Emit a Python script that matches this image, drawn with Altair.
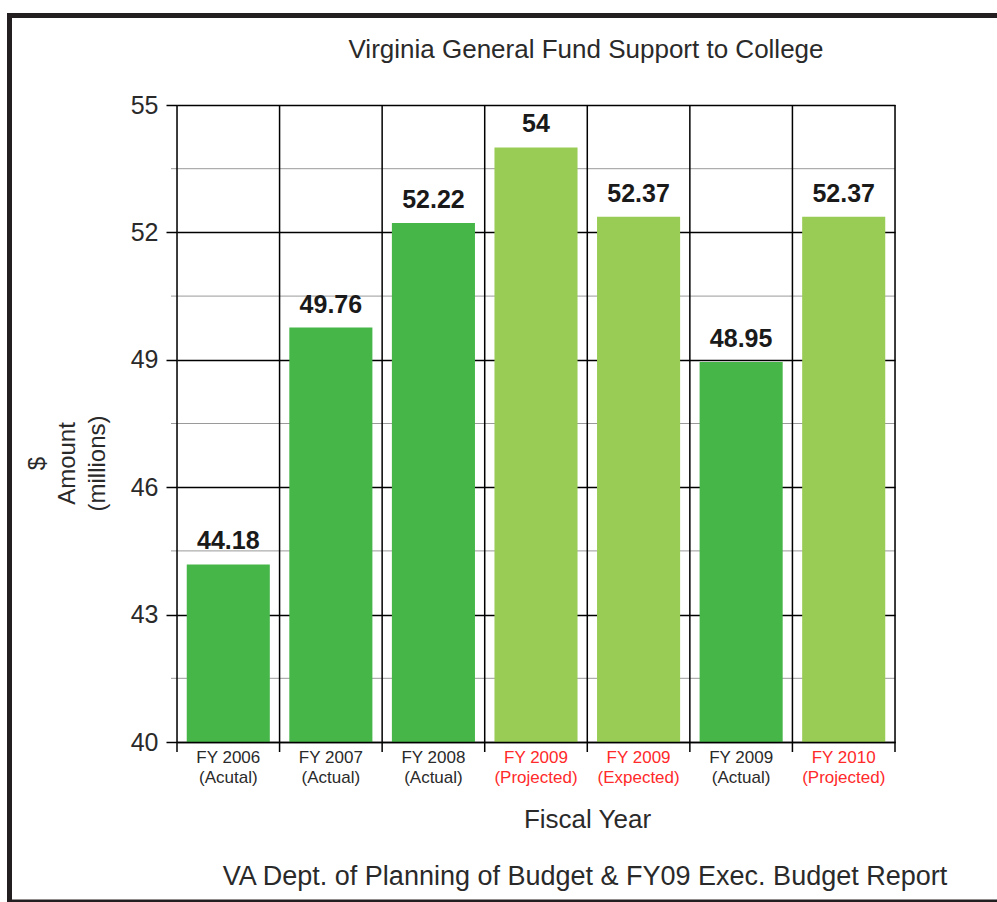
import altair as alt
import pandas as pd

# ---- data ----
categories = ["FY 2006|(Acutal)", "FY 2007|(Actual)", "FY 2008|(Actual)",
              "FY 2009|(Projected)", "FY 2009|(Expected)", "FY 2009|(Actual)",
              "FY 2010|(Projected)"]
values = [44.18, 49.76, 52.22, 54, 52.37, 48.95, 52.37]
status = ["Actual", "Actual", "Actual", "Projected", "Expected", "Actual", "Projected"]
major_ticks = [40, 43, 46, 49, 52, 55]
minor_ticks = [41.5, 44.5, 47.5, 50.5, 53.5]
y_min, y_max = 40, 55

title_text = "Virginia General Fund Support to College"
x_title = "Fiscal Year"
y_title = ["$", "Amount", "(millions)"]
footer_text = "VA Dept. of Planning of Budget & FY09 Exec. Budget Report"

df = pd.DataFrame({"cat": categories, "value": values, "status": status})
minor_df = pd.DataFrame({"v": minor_ticks})
one = pd.DataFrame({"k": [0]})

W, H = 718, 637
FONT = "Liberation Sans"
DARK = "#47b649"
LIGHT = "#99cc55"
RED = "#ff2a2a"
TXT = "#2a2a2a"

xscale = alt.Scale(paddingInner=0, paddingOuter=0)
yscale = alt.Scale(domain=[y_min, y_max], zero=False, nice=False)

# minor gray gridlines
minor = alt.Chart(minor_df).mark_rule(color="#9a9a9a", strokeWidth=1).encode(
    y=alt.Y("v:Q", scale=yscale),
    x=alt.value(-6), x2=alt.value(W),
)

bars = alt.Chart(df).mark_bar(width=alt.RelativeBandSize(0.81)).encode(
    x=alt.X("cat:N", sort=categories, scale=xscale,
            axis=alt.Axis(title=x_title, labelExpr="split(datum.label, '|')",
                          labelAngle=0, labelFont=FONT, labelFontSize=17,
                          labelLineHeight=20, labelPadding=7, ticks=False,
                          labelColor=alt.condition(
                              "indexof(datum.label, 'Projected') >= 0 || indexof(datum.label, 'Expected') >= 0",
                              alt.value(RED), alt.value(TXT)),
                          domain=True, domainColor="black", domainWidth=1.5, zindex=1,
                          titleFont=FONT, titleFontSize=26, titleFontWeight="normal",
                          titleColor=TXT, titleX=410, titleY=85,
                          titleBaseline="alphabetic", titleAlign="center")),
    y=alt.Y("value:Q", scale=yscale,
            axis=alt.Axis(title=y_title, values=major_ticks, grid=True,
                          gridColor="black", gridWidth=1.5, domain=False,
                          tickColor="black", tickWidth=1.5, tickSize=11,
                          labelFont=FONT, labelFontSize=25, labelColor=TXT,
                          labelPadding=8,
                          titleFont=FONT, titleFontSize=24, titleFontWeight="normal",
                          titleColor=TXT, titleAngle=-90, titleLineHeight=30,
                          titleX=-152, titleY=358, titleBaseline="top",
                          titleAlign="center")),
    y2=alt.Y2(datum=y_min),
    color=alt.Color("status:N", legend=None,
                    scale=alt.Scale(domain=["Actual", "Projected", "Expected"],
                                    range=[DARK, LIGHT, LIGHT])),
)

vlines = alt.Chart(df).mark_rule(color="black", strokeWidth=1.5).encode(
    x=alt.X("cat:N", sort=categories, scale=xscale, bandPosition=0),
    y=alt.value(0), y2=alt.value(H + 10),
)
right_line = alt.Chart(one).mark_rule(color="black", strokeWidth=1.5).encode(
    x=alt.value(W), y=alt.value(0), y2=alt.value(H + 10),
)

labels = alt.Chart(df).mark_text(font=FONT, fontSize=25, fontWeight="bold",
                                 color="#1a1a1a", baseline="alphabetic", dy=-15).encode(
    x=alt.X("cat:N", sort=categories, scale=xscale),
    y=alt.Y("value:Q", scale=yscale),
    text=alt.Text("value:Q", format="~g"),
)

title = alt.Chart(one).mark_text(text=title_text, font=FONT, fontSize=26,
                                 color=TXT, baseline="alphabetic", align="center").encode(
    x=alt.value(409), y=alt.value(-47),
)

footer = alt.Chart(one).mark_text(text=footer_text, font=FONT, fontSize=27,
                                  color=TXT, baseline="alphabetic", align="center").encode(
    x=alt.value(408), y=alt.value(780),
)

frame_top = alt.Chart(one).mark_rule(color="#231f20", strokeWidth=5).encode(
    x=alt.value(-170), x2=alt.value(830), y=alt.value(-89.5))
frame_left = alt.Chart(one).mark_rule(color="#231f20", strokeWidth=5).encode(
    x=alt.value(-167.5), y=alt.value(-92), y2=alt.value(800))
frame_bottom = alt.Chart(one).mark_rule(color="#231f20", strokeWidth=3).encode(
    x=alt.value(-170), x2=alt.value(830), y=alt.value(796))

chart = alt.layer(minor, bars, vlines, right_line, labels, title, footer,
                  frame_top, frame_left, frame_bottom).properties(
    width=W, height=H,
    padding={"left": 177, "top": 105, "right": 102, "bottom": 160},
    autosize="none",
).configure_view(stroke=None).configure(background="white")

chart.save("out.html", embed_options={"renderer": "svg", "actions": False})
